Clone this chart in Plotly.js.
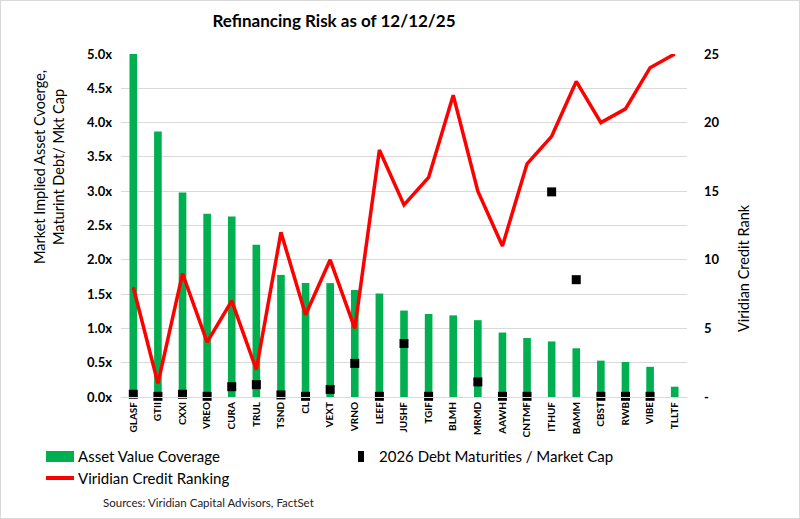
<!DOCTYPE html>
<html>
<head>
<meta charset="utf-8">
<script src="https://cdn.plot.ly/plotly-3.0.1.min.js"></script>
<style>
html,body{margin:0;padding:0;background:#fff;}
#chart{width:800px;height:519px;box-sizing:border-box;border:1px solid #d9d9d9;}
</style>
</head>
<body>
<div id="chart"></div>
<script>
const tickers = ["GLASF","GTII","CXXI","VREO","CURA","TRUL","TSND","CL","VEXT","VRNO","LEEF","JUSHF","TGIF","BLMH","MRMD","AAWH","CNTMF","ITHUF","BAMM","CBST","RWB","VIBE","TLLTF"];
const assetCoverage = [5.0,3.87,2.98,2.67,2.63,2.22,1.78,1.66,1.66,1.56,1.51,1.26,1.21,1.19,1.12,0.94,0.86,0.81,0.71,0.53,0.51,0.44,0.15];
const debtMaturities = [0.04,0.01,0.04,0.01,0.15,0.18,0.03,0.01,0.11,0.49,0.01,0.78,0.01,null,0.22,0.01,0.01,2.99,1.71,0.01,0.01,0.01,null];
const creditRank = [8,1,9,4,7,2,12,6,10,5,18,14,16,22,15,11,17,19,23,20,21,24,25];
const leftTickVals = [0,0.5,1,1.5,2,2.5,3,3.5,4,4.5,5];
const leftTickText = ["0.0x","0.5x","1.0x","1.5x","2.0x","2.5x","3.0x","3.5x","4.0x","4.5x","5.0x"];
const rightTickVals = [0,5,10,15,20,25];
const rightTickText = ["-","5","10","15","20","25"];

const FONT = "Lato, 'Open Sans', sans-serif";
const W = 800, H = 519, L = 120, R = 686, T = 53, B = 396;
const px = x => (x - L) / (R - L);
const py = y => (B - y) / (B - T);

const traces = [
  {type:"bar", x:tickers, y:assetCoverage, name:"Asset Value Coverage",
   marker:{color:"#00b050"}, width:0.31, showlegend:false},
  {type:"scatter", mode:"lines", x:tickers, y:creditRank, yaxis:"y2", name:"Viridian Credit Ranking",
   line:{color:"#ff0000", width:3.5}, showlegend:false},
  {type:"scatter", mode:"markers", x:tickers, y:debtMaturities, name:"2026 Debt Maturities / Market Cap",
   marker:{color:"#000000", symbol:"square", size:9}, showlegend:false, cliponaxis:false}
];

const layout = {
  width:W, height:H,
  margin:{l:L, r:W-R, t:T, b:H-B, pad:0},
  paper_bgcolor:"rgba(0,0,0,0)", plot_bgcolor:"#ffffff",
  font:{family:FONT, color:"#000"},
  title:{text:"<b>Refinancing Risk as of 12/12/25</b>", font:{size:17, family:FONT, color:"#000"},
         xref:"container", x:333/W, xanchor:"center", yref:"container", y:1-20/H, yanchor:"middle"},
  xaxis:{type:"category", range:[-0.5, tickers.length-0.5], tickangle:-90,
         tickfont:{size:10, family:FONT, color:"#000", weight:"bold"},
         showgrid:false, showline:true, linecolor:"#d9d9d9", linewidth:1, ticks:"", fixedrange:true},
  yaxis:{range:[0,5], tickvals:leftTickVals, ticktext:leftTickText,
         tickfont:{size:13, family:FONT, color:"#000", weight:"bold"},
         showgrid:true, gridcolor:"#d9d9d9", gridwidth:1, zeroline:false, showline:false,
         ticks:"", ticklabelstandoff:8},
  yaxis2:{range:[0,25], overlaying:"y", side:"right", tickvals:rightTickVals, ticktext:rightTickText,
          tickfont:{size:13, family:FONT, color:"#000", weight:"bold"},
          showgrid:false, zeroline:false, showline:false, ticks:"", ticklabelstandoff:16},
  shapes:[
    {type:"rect", xref:"paper", yref:"paper", x0:px(45), x1:px(73), y0:py(461), y1:py(450),
     fillcolor:"#00b050", line:{width:0}},
    {type:"rect", xref:"paper", yref:"paper", x0:px(357), x1:px(363), y0:py(461), y1:py(450),
     fillcolor:"#000", line:{width:0}},
    {type:"line", xref:"paper", yref:"paper", x0:px(45), x1:px(73), y0:py(477), y1:py(477),
     line:{color:"#ff0000", width:4}}
  ],
  annotations:[
    {text:"Market Implied Asset Cvoerge,<br>Maturint Debt/ Mkt Cap", xref:"paper", yref:"paper",
     x:px(48), y:py(166), textangle:-90, showarrow:false, font:{size:14.5, family:FONT, color:"#000"},
     xanchor:"center", yanchor:"middle"},
    {text:"Viridian Credit Rank", xref:"paper", yref:"paper", x:px(742), y:py(267), textangle:-90,
     showarrow:false, font:{size:14.5, family:FONT, color:"#000"}, xanchor:"center", yanchor:"middle"},
    {text:"Asset Value Coverage", xref:"paper", yref:"paper", x:px(75), y:py(455), xanchor:"left",
     yanchor:"middle", showarrow:false, font:{size:15, family:FONT, color:"#000"}},
    {text:"2026 Debt Maturities / Market Cap", xref:"paper", yref:"paper", x:px(376), y:py(455), xanchor:"left",
     yanchor:"middle", showarrow:false, font:{size:15, family:FONT, color:"#000"}},
    {text:"Viridian Credit Ranking", xref:"paper", yref:"paper", x:px(75), y:py(477), xanchor:"left",
     yanchor:"middle", showarrow:false, font:{size:15, family:FONT, color:"#000"}},
    {text:"Sources: Viridian Capital Advisors, FactSet", xref:"paper", yref:"paper", x:px(100), y:py(501),
     xanchor:"left", yanchor:"middle", showarrow:false, font:{size:11.5, family:FONT, color:"#222"}}
  ]
};

Plotly.newPlot("chart", traces, layout, {displayModeBar:false, staticPlot:true});
</script>
</body>
</html>
